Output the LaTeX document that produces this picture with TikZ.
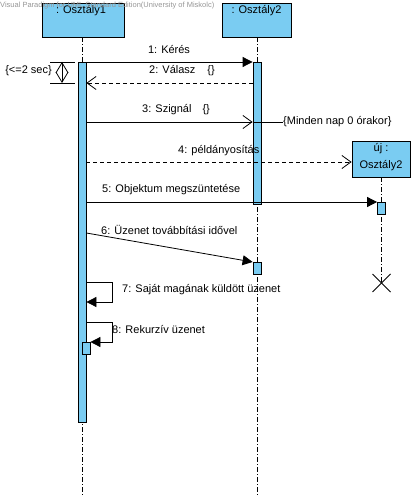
\documentclass[tikz,border=0pt]{standalone}
\usepackage{fontspec}
\setmainfont{Liberation Sans}
\usetikzlibrary{arrows.meta,calc}
\definecolor{vpblue}{RGB}{122,204,242}
\definecolor{wmgray}{RGB}{150,150,150}
\begin{document}
\begin{tikzpicture}[x=1bp,y=-1bp,
 objbox/.style={draw, fill=vpblue, line width=0.8bp, inner sep=0pt},
 bar/.style={draw, fill=vpblue, line width=0.8bp, inner sep=0pt, minimum width=8bp},
 lifeline/.style={line width=0.8bp, dash pattern=on 5bp off 2bp on 1bp off 2bp},
 msg/.style={line width=0.8bp},
 ret/.style={line width=0.8bp, dash pattern=on 4bp off 3bp},
 lbl/.style={font=\fontsize{11bp}{13bp}\selectfont, inner sep=0pt},
 filled/.style={-{Triangle[length=10bp,width=10bp]}},
 openh/.style={-{Straight Barb[length=9bp,width=13bp]}},
]
\useasboundingbox (0,0) rectangle (416,496);
% object boxes
\node[objbox, minimum width=82bp, minimum height=34bp] (o1) at (83,20) {};
\node[objbox, minimum width=69bp, minimum height=34bp] (o2) at (256.5,20) {};
\node[objbox, minimum width=58bp, minimum height=36bp] (o3) at (381,159) {};
\node[lbl] (o1t) at (81,11) {: Osztály1};
\node[lbl] (o2t) at (256.5,11) {: Osztály2};
\node[lbl] (o3a) at (381,149) {új :};
\node[lbl] (o3b) at (381,166) {Osztály2};
% lifeline ends
\coordinate (e1) at (82,496);
\coordinate (e2) at (257,496);
\coordinate (x3) at (381.5,283);
\draw[lifeline] (o1.south -| e1) -- (e1);
\draw[lifeline] (o2.south -| e2) -- (e2);
\draw[lifeline] (o3.south -| x3) -- (x3);
% activation bars
\node[bar, minimum height=360bp, anchor=north] (a1) at (82,62) {};
\node[bar, minimum height=142bp, anchor=north] (a2) at (257,62) {};
\node[bar, minimum height=12bp, anchor=north] (a3) at (381.5,202) {};
\node[bar, minimum height=12bp, anchor=north] (a4) at (257,262) {};
\node[bar, minimum height=12bp, anchor=north] (a5) at (86,342) {};
% destruction
\draw[line width=0.8bp] ($(x3)+(-9,-9)$) -- ($(x3)+(9,9)$);
\draw[line width=0.8bp] ($(x3)+(-9,9)$) -- ($(x3)+(9,-9)$);
% y levels
\coordinate (y2) at (0,83);
\coordinate (y3) at (0,122);
\coordinate (y4) at (0,162);
\coordinate (y5) at (0,202);
\coordinate (y6) at (0,233);
\coordinate (s7a) at (112,282);
\coordinate (s7b) at (112,302);
\coordinate (s8a) at (112,322);
\coordinate (s8b) at (112,342);
% messages
\draw[msg,filled] (a1.north east) -- (a2.north west);
\node[lbl] (m1) at (169,50) {1: Kérés};
\draw[ret,openh] (a2.west |- y2) -- (a1.east |- y2);
\node[lbl, anchor=west] (m2) at (149,71) {2: Válasz\hspace{12bp}\{\}};
\draw[msg,openh] (a1.east |- y3) -- (a2.west |- y3);
\node[lbl, anchor=west] (m3) at (142,110) {3: Szignál\hspace{11bp}\{\}};
\node[lbl, anchor=west] (c3) at (283,122) {\{Minden nap 0 órakor\}};
\draw[msg] (a2.west |- y3) -- (c3.west);
\draw[ret,openh] (a1.east |- y4) -- (o3.west |- y4);
\node[lbl, anchor=west] (m4) at (178,151) {4: példányosítás};
\draw[msg,filled] (a1.east |- y5) -- (a3.north west);
\node[lbl, anchor=west] (m5) at (102,190) {5: Objektum megszüntetése};
\draw[msg,filled] (a1.east |- y6) -- (a4.north west);
\node[lbl, anchor=west] (m6) at (101,230) {6: Üzenet továbbítási idővel};
\draw[msg,filled] (a1.east |- s7a) -- (s7a) -- (s7b) -- (a1.east |- s7b);
\node[lbl, anchor=west] (m7) at (122,290) {7: Saját magának küldött üzenet};
\draw[msg,filled] (a1.east |- s8a) -- (s8a) -- (s8b) -- (a5.north east);
\node[lbl, anchor=west] (m8) at (112,330) {8: Rekurzív üzenet};
% timing constraint
\coordinate (t1) at (50,62);
\coordinate (t2) at (50,83);
\draw[msg] (t1) -- (75,62);
\draw[msg] (t2) -- (75,83);
\coordinate (ta) at (62,62);
\coordinate (tb) at (62,83);
\draw[msg,{Straight Barb[length=10bp,width=12bp]}-{Straight Barb[length=10bp,width=12bp]}] (ta) -- (tb);
\node[lbl, anchor=east] (tc) at (52,71) {\{<=2 sec\}};
% watermark
\node[font=\fontsize{7.5bp}{8bp}\selectfont, text=wmgray, inner sep=0pt, anchor=west] (wm) at (0,6) {Visual Paradigm for UML Standard Edition(University of Miskolc)};
\end{tikzpicture}
\end{document}
